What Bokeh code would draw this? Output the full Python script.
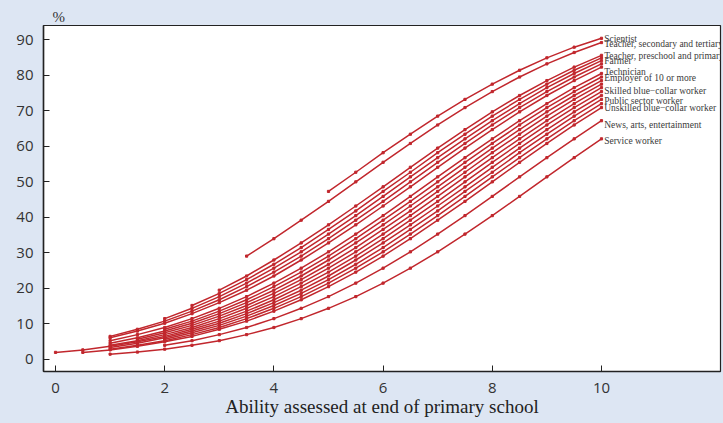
from bokeh.plotting import figure
from bokeh.models import Range1d, FixedTicker
from bokeh.core.properties import value
from bokeh.embed import file_html
from bokeh.resources import INLINE

# ---- data ----
start_x = [5, 3.5, 3, 2.5, 2, 1, 1, 1, 2, 1, 1.5, 1, 0, 1, 2, 1, 0.5, 2, 1]
series = [
    [47.3, 52.7, 58.2, 63.4, 68.5, 73.2, 77.5, 81.4, 84.9, 87.9, 90.4],
    [29.1, 34.0, 39.2, 44.5, 50.0, 55.5, 60.8, 66.0, 70.9, 75.4, 79.5, 83.2, 86.4, 89.2],
    [19.5, 23.5, 28.0, 32.8, 37.9, 43.2, 48.6, 54.1, 59.5, 64.7, 69.7, 74.3, 78.5, 82.3, 85.6],
    [15.2, 18.6, 22.5, 26.8, 31.5, 36.6, 41.8, 47.3, 52.7, 58.2, 63.4, 68.5, 73.2, 77.5, 81.4, 84.9],
    [11.5, 14.4, 17.7, 21.5, 25.7, 30.3, 35.3, 40.5, 45.9, 51.4, 56.8, 62.1, 67.2, 72.0, 76.5, 80.5, 84.1],
    [6.5, 8.5, 10.8, 13.6, 16.8, 20.5, 24.6, 29.1, 34.0, 39.2, 44.5, 50.0, 55.5, 60.8, 66.0, 70.9, 75.4, 79.5, 83.2],
    [6.1, 8.0, 10.2, 12.9, 16.0, 19.5, 23.5, 28.0, 32.8, 37.9, 43.2, 48.6, 54.1, 59.5, 64.7, 69.7, 74.3, 78.5, 82.3],
    [5.3, 7.0, 9.0, 11.5, 14.4, 17.7, 21.5, 25.7, 30.3, 35.3, 40.5, 45.9, 51.4, 56.8, 62.1, 67.2, 72.0, 76.5, 80.5],
    [8.5, 10.8, 13.6, 16.8, 20.5, 24.6, 29.1, 34.0, 39.2, 44.5, 50.0, 55.5, 60.8, 66.0, 70.9, 75.4, 79.5],
    [4.6, 6.1, 8.0, 10.2, 12.9, 16.0, 19.5, 23.5, 28.0, 32.8, 37.9, 43.2, 48.6, 54.1, 59.5, 64.7, 69.7, 74.3, 78.5],
    [5.7, 7.5, 9.6, 12.2, 15.2, 18.6, 22.5, 26.8, 31.5, 36.6, 41.8, 47.3, 52.7, 58.2, 63.4, 68.5, 73.2, 77.5],
    [4.0, 5.3, 7.0, 9.0, 11.5, 14.4, 17.7, 21.5, 25.7, 30.3, 35.3, 40.5, 45.9, 51.4, 56.8, 62.1, 67.2, 72.0, 76.5],
    [2.0, 2.7, 3.7, 5.0, 6.5, 8.5, 10.8, 13.6, 16.8, 20.5, 24.6, 29.1, 34.0, 39.2, 44.5, 50.0, 55.5, 60.8, 66.0, 70.9, 75.4],
    [3.4, 4.6, 6.1, 8.0, 10.2, 12.9, 16.0, 19.5, 23.5, 28.0, 32.8, 37.9, 43.2, 48.6, 54.1, 59.5, 64.7, 69.7, 74.3],
    [5.7, 7.5, 9.6, 12.2, 15.2, 18.6, 22.5, 26.8, 31.5, 36.6, 41.8, 47.3, 52.7, 58.2, 63.4, 68.5, 73.2],
    [2.9, 4.0, 5.3, 7.0, 9.0, 11.5, 14.4, 17.7, 21.5, 25.7, 30.3, 35.3, 40.5, 45.9, 51.4, 56.8, 62.1, 67.2, 72.0],
    [2.0, 2.7, 3.7, 5.0, 6.5, 8.5, 10.8, 13.6, 16.8, 20.5, 24.6, 29.1, 34.0, 39.2, 44.5, 50.0, 55.5, 60.8, 66.0, 70.9],
    [4.0, 5.3, 7.0, 9.0, 11.5, 14.4, 17.7, 21.5, 25.7, 30.3, 35.3, 40.5, 45.9, 51.4, 56.8, 62.1, 67.2],
    [1.5, 2.1, 2.9, 4.0, 5.3, 7.0, 9.0, 11.5, 14.4, 17.7, 21.5, 25.7, 30.3, 35.3, 40.5, 45.9, 51.4, 56.8, 62.1],
]
label_names = [
    "Scientist", "Teacher, secondary and tertiary", "Teacher, preschool and primary",
    "Farmer", "Technician", "Employer of 10 or more", "Skilled blue\u2212collar worker",
    "Public sector worker", "Unskilled blue\u2212collar worker", "News, arts, entertainment",
    "Service worker",
]
label_y = [90.3, 88.9, 85.5, 84.1, 80.8, 79.2, 75.6, 72.8, 70.9, 66.1, 61.6]
x_ticks = [0, 2, 4, 6, 8, 10]
y_ticks = [0, 10, 20, 30, 40, 50, 60, 70, 80, 90]
x_title = "Ability assessed at end of primary school"
y_unit = "%"

BG = "#dde6f3"
RED = "#c1272d"

p = figure(width=723, height=423, output_backend="svg", toolbar_location=None,
           x_range=Range1d(-0.22, 12.18), y_range=Range1d(-3.38, 94.0),
           min_border_left=43, min_border_right=3, min_border_top=25, min_border_bottom=52,
           title=y_unit)
p.background_fill_color = "white"
p.border_fill_color = BG
p.outline_line_color = "#222222"
p.outline_line_width = 1.2
p.grid.visible = False

p.title.text_font = "Liberation Serif"
p.title.text_font_style = "normal"
p.title.text_font_size = "15px"
p.title.text_color = "#333333"
p.title.align = "left"
p.title.offset = 9
p.title.standoff = 2

for sx, vals in zip(start_x, series):
    xs = [sx + 0.5 * i for i in range(len(vals))]
    p.line(xs, vals, line_color=RED, line_width=1.5)
    p.scatter(xs, vals, marker="square", size=2.2, color=RED)

p.text(x=[10.05] * len(label_names), y=label_y, text=label_names,
       text_font=value("Liberation Serif"), text_font_size="9.5px",
       text_color="#3a3a3a", text_baseline="middle", text_align="left")

for ax in (p.xaxis[0], p.yaxis[0]):
    ax.axis_line_color = "#222222"
    ax.axis_line_width = 1.5
    ax.major_tick_in = 6
    ax.major_tick_out = 0
    ax.major_tick_line_color = "#222222"
    ax.minor_tick_line_color = None
    ax.major_label_text_font = "Open Sans"
    ax.major_label_text_font_size = "15px"
    ax.major_label_text_color = "#333333"

p.xaxis.ticker = FixedTicker(ticks=x_ticks)
p.yaxis.ticker = FixedTicker(ticks=y_ticks)
p.xaxis.major_label_standoff = 11
p.yaxis.major_label_standoff = 10
p.xaxis.axis_label = x_title
p.xaxis.axis_label_text_font = "Liberation Serif"
p.xaxis.axis_label_text_font_style = "normal"
p.xaxis.axis_label_text_font_size = "19px"
p.xaxis.axis_label_text_color = "#222222"
p.xaxis.axis_label_standoff = 0

html = file_html(p, INLINE)
html = html.replace("</head>", "<style>html,body{margin:0;padding:0;background:%s;overflow:hidden;}</style></head>" % BG, 1)
open("out.html", "w").write(html)
